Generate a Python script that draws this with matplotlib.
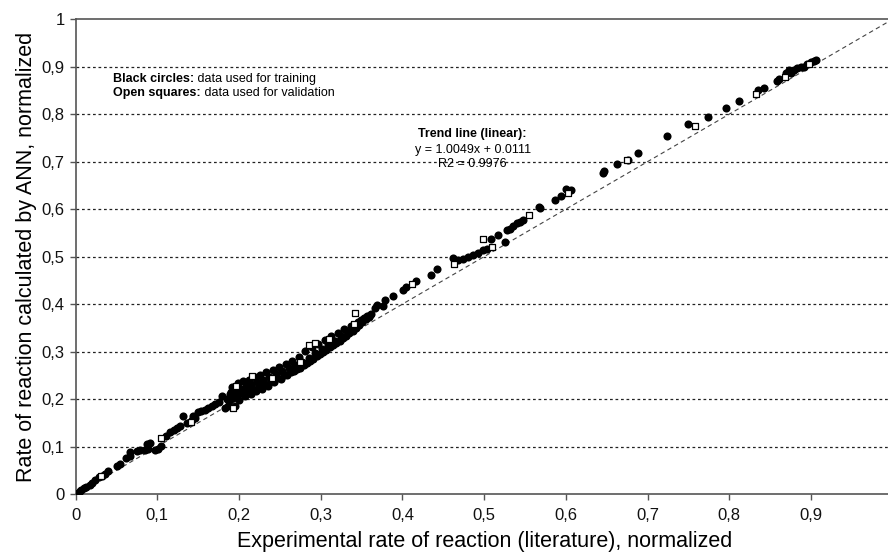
#!/usr/bin/env python3
import matplotlib
matplotlib.use('Agg')
import matplotlib.pyplot as plt
from matplotlib import ticker

plt.rcParams['font.family'] = ['Liberation Sans', 'DejaVu Sans']

# black circles: data used for training (experimental, ANN)
train_x = [
    0.001, 0.003, 0.005, 0.007, 0.010, 0.013, 0.017, 0.020, 0.024, 0.028, 0.032,
    0.036, 0.040, 0.050, 0.054, 0.062, 0.066, 0.067, 0.075, 0.079, 0.085, 0.089,
    0.087, 0.091, 0.097, 0.101, 0.105, 0.111, 0.116, 0.120, 0.124, 0.128, 0.131,
    0.136, 0.140, 0.142, 0.144, 0.146, 0.150, 0.154, 0.158, 0.162, 0.167, 0.171,
    0.175, 0.179, 0.183, 0.187, 0.195, 0.185, 0.189, 0.193, 0.197,
    0.188, 0.190, 0.191, 0.193, 0.195, 0.197, 0.199, 0.200, 0.202, 0.203, 0.205,
    0.207, 0.208, 0.210, 0.212, 0.214, 0.215, 0.217, 0.219, 0.221, 0.222, 0.224,
    0.226, 0.228, 0.229, 0.231, 0.233, 0.235, 0.237, 0.239, 0.241, 0.243, 0.245,
    0.247, 0.249, 0.251, 0.253, 0.255, 0.257, 0.259, 0.261, 0.263, 0.265, 0.267,
    0.269, 0.271, 0.273, 0.275, 0.277, 0.279, 0.281, 0.283, 0.285, 0.287, 0.289,
    0.291, 0.293, 0.295, 0.297, 0.299, 0.301, 0.303, 0.305, 0.307, 0.309, 0.311,
    0.313, 0.315, 0.317, 0.319, 0.321, 0.323, 0.325, 0.327, 0.329, 0.331, 0.333,
    0.335, 0.337, 0.339, 0.341, 0.343, 0.345, 0.347, 0.349, 0.351, 0.353, 0.355,
    0.357, 0.359, 0.361,
    0.360, 0.366, 0.369, 0.3765, 0.3786, 0.3888, 0.401, 0.4043, 0.4165, 0.4349,
    0.4418, 0.4622, 0.4683, 0.4744, 0.4806, 0.4867, 0.4928, 0.4989, 0.503, 0.508,
    0.5173, 0.5254, 0.5275, 0.5316, 0.5356, 0.5397, 0.5438, 0.5479,
    0.5668, 0.568, 0.5864, 0.5945, 0.6006, 0.6068, 0.6453, 0.6466, 0.6625, 0.6755,
    0.6886, 0.7236, 0.750, 0.7734, 0.7958, 0.8121, 0.8357, 0.8426, 0.8589, 0.861,
    0.8691, 0.8732, 0.8752, 0.8793, 0.8834, 0.8875, 0.8915, 0.8956, 0.8997, 0.9037,
    0.9058,
]
train_y = [
    0.001, 0.003, 0.007, 0.009, 0.012, 0.015, 0.019, 0.024, 0.029, 0.035, 0.038,
    0.043, 0.048, 0.060, 0.064, 0.076, 0.088, 0.081, 0.090, 0.092, 0.093, 0.095,
    0.106, 0.107, 0.092, 0.095, 0.101, 0.123, 0.130, 0.134, 0.139, 0.144, 0.165,
    0.149, 0.152, 0.155, 0.165, 0.160, 0.172, 0.174, 0.177, 0.181, 0.186, 0.190,
    0.193, 0.207, 0.181, 0.186, 0.186, 0.200, 0.210, 0.217, 0.228,
    0.196, 0.214, 0.226, 0.203, 0.219, 0.209, 0.234, 0.198, 0.222, 0.212, 0.238,
    0.206, 0.227, 0.217, 0.241, 0.211, 0.232, 0.222, 0.246, 0.216, 0.236, 0.228,
    0.251, 0.222, 0.241, 0.233, 0.256, 0.228, 0.247, 0.238, 0.262, 0.236, 0.252,
    0.244, 0.268, 0.243, 0.258, 0.250, 0.273, 0.250, 0.265, 0.257, 0.280, 0.258,
    0.272, 0.264, 0.288, 0.266, 0.279, 0.272, 0.302, 0.275, 0.287, 0.281, 0.309,
    0.285, 0.296, 0.290, 0.316, 0.294, 0.305, 0.300, 0.324, 0.303, 0.314, 0.309,
    0.332, 0.313, 0.323, 0.318, 0.340, 0.323, 0.333, 0.328, 0.347, 0.333, 0.342,
    0.339, 0.354, 0.344, 0.352, 0.350, 0.362, 0.356, 0.366, 0.362, 0.371, 0.368,
    0.375, 0.373, 0.379,
    0.378, 0.392, 0.399, 0.395, 0.408, 0.417, 0.430, 0.436, 0.448, 0.462,
    0.473, 0.497, 0.492, 0.494, 0.499, 0.503, 0.508, 0.514, 0.517, 0.538,
    0.545, 0.531, 0.556, 0.559, 0.564, 0.570, 0.573, 0.577,
    0.605, 0.602, 0.619, 0.628, 0.642, 0.640, 0.677, 0.680, 0.695, 0.703,
    0.719, 0.753, 0.779, 0.793, 0.812, 0.828, 0.851, 0.856, 0.870, 0.873,
    0.886, 0.893, 0.887, 0.893, 0.8965, 0.8986, 0.900, 0.9056, 0.909, 0.9126,
    0.914,
]

# open squares: data used for validation
valid_x = [0.031, 0.1045, 0.141, 0.192, 0.196, 0.2154, 0.2399, 0.2746, 0.2856,
           0.293, 0.3105, 0.3407, 0.3419, 0.4112, 0.463, 0.4989, 0.5091, 0.5552,
           0.6029, 0.6744, 0.7578, 0.8322, 0.8684, 0.8973]
valid_y = [0.037, 0.118, 0.152, 0.181, 0.228, 0.2486, 0.2437, 0.2789, 0.314,
           0.319, 0.326, 0.358, 0.382, 0.443, 0.485, 0.538, 0.521, 0.587,
           0.633, 0.703, 0.775, 0.842, 0.8775, 0.905]

y_ticks = [0, 0.1, 0.2, 0.3, 0.4, 0.5, 0.6, 0.7, 0.8, 0.9, 1.0]


def comma_fmt(v, pos):
    return '{:g}'.format(round(v, 2)).replace('.', ',')


def comma_fmt_x(v, pos):
    # the "1" label falls outside the cropped figure
    if v >= 0.99:
        return ''
    return comma_fmt(v, pos)


fig = plt.figure(figsize=(8.88, 5.58), dpi=100)
ax = fig.add_axes([0.0852, 0.1147, 0.9201, 0.8509])

# y = x reference diagonal
ax.plot([0, 1], [0, 1], color='#444444', lw=0.8,
        linestyle=(0, (4, 3)), zorder=2)

for yv in y_ticks[1:-1]:
    ax.axhline(yv, color='#222222', lw=0.9, linestyle=(0, (2.2, 2.2)), zorder=1)

ax.scatter(train_x, train_y, s=34, c='black', marker='o', linewidths=0, zorder=3)
ax.scatter(valid_x, valid_y, s=19, facecolors='white', edgecolors='black',
           marker='s', linewidths=0.9, zorder=4)

ax.set_xlim(0, 1)
ax.set_ylim(0, 1)
ax.set_xticks(y_ticks)
ax.set_yticks(y_ticks)
ax.xaxis.set_major_formatter(ticker.FuncFormatter(comma_fmt_x))
ax.yaxis.set_major_formatter(ticker.FuncFormatter(comma_fmt))
ax.tick_params(direction='out', length=4, width=1, color='#555555',
               labelsize=12, labelcolor='#111111')
ax.tick_params(axis='x', pad=6)
ax.tick_params(axis='y', pad=4)

for side in ['left', 'bottom', 'top', 'right']:
    ax.spines[side].set_color('#555555')
    ax.spines[side].set_linewidth(1.2)

ax.set_xlabel('Experimental rate of reaction (literature), normalized',
              fontsize=15.5, labelpad=6)
ax.set_ylabel('Rate of reaction calculated by ANN, normalized',
              fontsize=15.5, labelpad=3)

# legend-like notes
t1 = ax.text(0.046, 0.861, 'Black circles:', fontsize=9, fontweight='bold',
             va='bottom', ha='left')
ax.annotate(' data used for training', xy=(1, 0), xycoords=t1,
            fontsize=9, va='bottom', ha='left')
t2 = ax.text(0.046, 0.831, 'Open squares:', fontsize=9, fontweight='bold',
             va='bottom', ha='left')
ax.annotate(' data used for validation', xy=(1, 0), xycoords=t2,
            fontsize=9, va='bottom', ha='left')

ax.text(0.486, 0.759, 'Trend line (linear):', fontsize=9, fontweight='bold',
        ha='center', va='center')
ax.text(0.486, 0.725, 'y = 1.0049x + 0.0111', fontsize=9,
        ha='center', va='center')
ax.text(0.486, 0.694, 'R2 = 0.9976', fontsize=9, ha='center', va='center')

fig.savefig('out.png', dpi=100)
